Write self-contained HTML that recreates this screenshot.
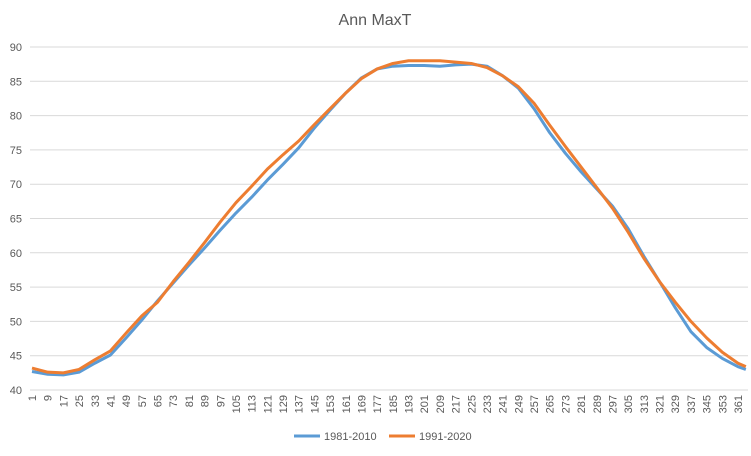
<!DOCTYPE html>
<html><head><meta charset="utf-8"><style>
body{margin:0;background:#fff;font-family:"Liberation Sans",sans-serif}
</style></head><body>
<svg width="751" height="456" id="c" style="display:block">
<text x="375" y="25" text-anchor="middle" font-size="16" fill="#595959">Ann MaxT</text>
<g id="grid"></g><g id="series"></g>
<g>
<line x1="294" y1="436" x2="320" y2="436" stroke="#5b9bd5" stroke-width="3"/>
<text x="324" y="440" font-size="11" fill="#595959">1981-2010</text>
<line x1="389" y1="436" x2="415" y2="436" stroke="#ed7d31" stroke-width="3"/>
<text x="419" y="440" font-size="11" fill="#595959">1991-2020</text>
</g>
</svg>
<script>
const days=[1,9,17,25,33,41,49,57,65,73,81,89,97,105,113,121,129,137,145,153,161,169,177,185,193,201,209,217,225,233,241,249,257,265,273,281,289,297,305,313,321,329,337,345,353,361,365];
const s1981=[42.7,42.3,42.2,42.6,43.9,45.1,47.6,50.2,53,55.6,58.2,60.7,63.3,65.8,68.1,70.6,72.9,75.3,78.2,80.8,83.3,85.5,86.8,87.2,87.3,87.3,87.2,87.4,87.5,87.2,85.8,84,81,77.5,74.5,71.8,69.3,66.8,63.5,59.5,55.8,52,48.5,46.2,44.6,43.4,43.0];
const s1991=[43.2,42.6,42.5,43.0,44.4,45.7,48.3,50.8,52.8,55.8,58.6,61.5,64.5,67.3,69.7,72.2,74.3,76.3,78.7,81.0,83.3,85.4,86.8,87.6,88.0,88.0,88.0,87.8,87.6,87.0,85.8,84.2,81.8,78.6,75.5,72.5,69.5,66.5,63,59.2,55.8,52.8,50.0,47.6,45.5,43.9,43.4];
const yTicks=[40,45,50,55,60,65,70,75,80,85,90];
const X=d=>32+(d-1)*(706/360);
const Y=v=>390-(v-40)*6.86;
const NS="http://www.w3.org/2000/svg";
const grid=document.getElementById('grid'),ser=document.getElementById('series');
yTicks.forEach(t=>{
 const l=document.createElementNS(NS,'line');
 l.setAttribute('x1',30);l.setAttribute('x2',748);l.setAttribute('y1',Y(t));l.setAttribute('y2',Y(t));
 l.setAttribute('stroke','#d9d9d9');
 
 
 grid.appendChild(l);
 const tx=document.createElementNS(NS,'text');
 tx.setAttribute('x',22);tx.setAttribute('y',Y(t)+4);tx.setAttribute('text-anchor','end');
 tx.setAttribute('font-size','11');tx.setAttribute('fill','#595959');tx.textContent=t;
 
 
 grid.appendChild(tx);
});
for(let d=1;d<=365;d+=8){
 const tx=document.createElementNS(NS,'text');
 const x=X(d)+4,y=395;
 tx.setAttribute('x',x);tx.setAttribute('y',y);tx.setAttribute('text-anchor','end');
 tx.setAttribute('transform','rotate(-90 '+x+' '+y+')');
 tx.setAttribute('font-size','11');tx.setAttribute('fill','#595959');tx.textContent=d;
 
 
 grid.appendChild(tx);
}
function line(vals,col,name){
 const p=document.createElementNS(NS,'polyline');
 p.setAttribute('points',days.map((d,i)=>X(d)+','+Y(vals[i])).join(' '));
 p.setAttribute('fill','none');p.setAttribute('stroke',col);p.setAttribute('stroke-width','3');
 p.setAttribute('stroke-linejoin','round');
 
 
 ser.appendChild(p);
}
line(s1981,'#5b9bd5','series-1981-2010');
line(s1991,'#ed7d31','series-1991-2020');
</script>
</body></html>
